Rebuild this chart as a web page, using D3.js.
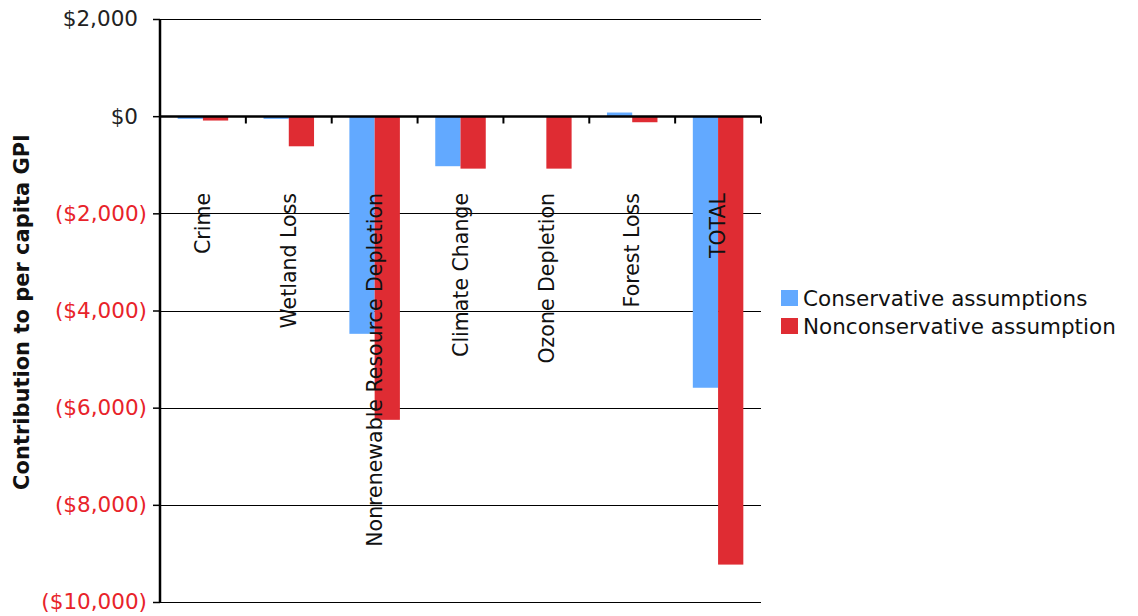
<!DOCTYPE html>
<html>
<head>
<meta charset="utf-8">
<script src="https://cdn.jsdelivr.net/npm/d3@7"></script>
<style>
  html, body { margin: 0; padding: 0; background: #fff; }
  svg { display: block; }
  text { font-family: "DejaVu Sans", Verdana, sans-serif; }
</style>
</head>
<body>
<svg id="chart" width="1138" height="616"></svg>
<script>
const categories = ["Crime", "Wetland Loss", "Nonrenewable Resource Depletion", "Climate Change", "Ozone Depletion", "Forest Loss", "TOTAL"];
const seriesNames = ["Conservative assumptions", "Nonconservative assumption"];
const conservative = [-55, -55, -4480, -1030, 0, 75, -5590];
const nonconservative = [-90, -620, -6250, -1080, -1080, -125, -9230];
const yTicks = [2000, 0, -2000, -4000, -6000, -8000, -10000];
const colors = ["#62a9ff", "#df2c33"];

const svg = d3.select("#chart");
const pLeft = 160, pRight = 761, pTop = 19, pBottom = 602;

const y = d3.scaleLinear().domain([-10000, 2000]).range([pBottom, pTop]);
const x0 = d3.scaleBand().domain(categories).range([pLeft, pRight]).padding(0);
const x1 = d3.scaleBand().domain(seriesNames).range([0, x0.bandwidth()]).paddingInner(0).paddingOuter(0.7);

const fmt = v => v < 0 ? "($" + d3.format(",")(-v) + ")" : "$" + d3.format(",")(v);

// gridlines
svg.append("g").selectAll("line").data(yTicks).join("line")
  .attr("x1", pLeft).attr("x2", pRight)
  .attr("y1", d => Math.round(y(d)) + 0.5).attr("y2", d => Math.round(y(d)) + 0.5)
  .attr("stroke", "#000").attr("stroke-width", 1.2);

// bars
const data = categories.map((c, i) => ({ cat: c, vals: [conservative[i], nonconservative[i]] }));
const g = svg.append("g");
data.forEach(d => {
  d.vals.forEach((v, j) => {
    if (v === 0) return;
    g.append("rect")
      .attr("x", x0(d.cat) + x1(seriesNames[j]))
      .attr("width", x1.bandwidth())
      .attr("y", y(Math.max(0, v)))
      .attr("height", Math.abs(y(v) - y(0)))
      .attr("fill", colors[j]);
  });
});

// y axis
const yAxis = d3.axisLeft(y).tickValues(yTicks).tickSize(7).tickPadding(6).tickFormat(fmt);
const ya = svg.append("g").attr("transform", `translate(${pLeft},0)`).call(yAxis);
ya.select(".domain").attr("stroke", "#000").attr("stroke-width", 2.5).attr("d", `M0,${pTop}V${pBottom}`);
ya.selectAll(".tick line").attr("stroke", "#000").attr("stroke-width", 1.5);
ya.selectAll(".tick text")
  .attr("font-family", "DejaVu Sans, Verdana, sans-serif")
  .attr("font-size", 21.5)
  .attr("fill", d => d < 0 ? "#e8232a" : "#222")
  .attr("dx", d => d < 0 ? 0 : -9);

// zero line (x axis)
const y0 = Math.round(y(0)) + 0.5;
svg.append("line").attr("x1", pLeft).attr("x2", pRight).attr("y1", y0).attr("y2", y0)
  .attr("stroke", "#000").attr("stroke-width", 2.5);
// category tick marks
const xTickPos = categories.map(c => x0(c) + x0.bandwidth());
svg.append("g").selectAll("line").data(xTickPos).join("line")
  .attr("x1", d => d).attr("x2", d => d).attr("y1", y0).attr("y2", y0 + 7)
  .attr("stroke", "#000").attr("stroke-width", 2);

// category labels
svg.append("g").selectAll("text").data(categories).join("text")
  .attr("transform", c => `translate(${x0(c) + x0.bandwidth() / 2},193) rotate(-90)`)
  .attr("text-anchor", "end")
  .attr("dy", "0.35em")
  .attr("font-size", 20.5)
  .attr("fill", "#111")
  .text(c => c);

// y axis title
svg.append("text")
  .attr("transform", `translate(22,312) rotate(-90)`)
  .attr("text-anchor", "middle")
  .attr("dy", "0.35em")
  .attr("font-size", 21)
  .attr("font-weight", "bold")
  .attr("fill", "#111")
  .text("Contribution to per capita GPI");

// legend
const lg = svg.append("g");
seriesNames.forEach((s, i) => {
  const cy = 298 + i * 28;
  lg.append("rect").attr("x", 781).attr("y", cy - 8).attr("width", 17).attr("height", 16).attr("fill", colors[i]);
  lg.append("text").attr("x", 803).attr("y", cy).attr("dy", "0.35em")
    .attr("font-size", 21.5).attr("fill", "#111").text(s);
});
</script>
</body>
</html>
